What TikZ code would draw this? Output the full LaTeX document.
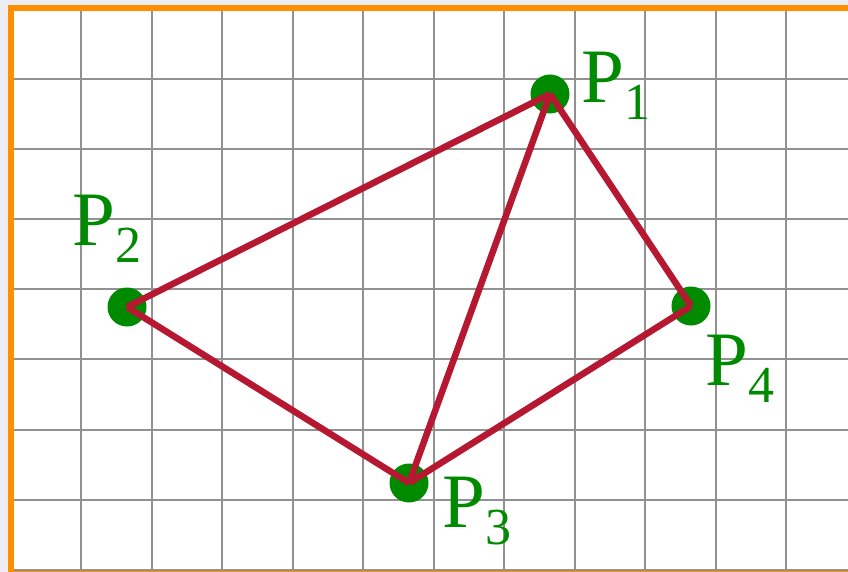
\documentclass[tikz,border=0pt]{standalone}
\usepackage{fontspec}
\setmainfont{Liberation Serif}
\definecolor{bgout}{RGB}{238,238,242}
\definecolor{frameor}{RGB}{255,143,0}
\definecolor{gridgr}{RGB}{145,145,145}
\definecolor{edgered}{RGB}{181,24,48}
\definecolor{ptgreen}{RGB}{0,138,0}
\tikzset{
  gridline/.style={draw=gridgr, line width=2pt},
  frameline/.style={draw=frameor, line width=5.5pt},
  edge/.style={draw=edgered, line width=6.5pt},
  ptdot/.style={circle, fill=ptgreen, inner sep=0pt, minimum size=39pt},
  ptlabel/.style={text=ptgreen, inner sep=0pt, anchor=base west, font=\fontsize{77}{80}\selectfont},
}
\newcommand{\subsc}[1]{\raisebox{-17pt}{\fontsize{52}{52}\selectfont #1}}
\begin{document}
\begin{tikzpicture}[x=1pt,y=-1pt]
\useasboundingbox (0,0) rectangle (848,572);
\fill[bgout] (0,0) rectangle (848,572);
\fill[white] (8,5) rectangle (848,572);
% grid
\foreach \i in {0,...,10} {
  \draw[gridline] ({81+70.5*\i},10) -- ({81+70.5*\i},572);
}
\foreach \j in {0,...,7} {
  \draw[gridline] (13,{79+70.1*\j}) -- (848,{79+70.1*\j});
}
% orange frame
\draw[frameline] (10.8,7.8) -- (848,7.8);
\draw[frameline] (10.8,5) -- (10.8,572);
\draw[draw=frameor, line width=2pt] (8,572) -- (848,572);
% points
\node[ptdot] (p1) at (550,94) {};
\node[ptdot] (p2) at (127,307) {};
\node[ptdot] (p3) at (409,483) {};
\node[ptdot] (p4) at (691,306) {};
% edges
\draw[edge] (p1.center) -- (p2.center);
\draw[edge] (p2.center) -- (p3.center);
\draw[edge] (p3.center) -- (p4.center);
\draw[edge] (p4.center) -- (p1.center);
\draw[edge] (p1.center) -- (p3.center);
% labels
\node[ptlabel] (l1) at (581,103) {P\subsc{1}};
\node[ptlabel] (l2) at (72,245) {P\subsc{2}};
\node[ptlabel] (l3) at (442,527) {P\subsc{3}};
\node[ptlabel] (l4) at (705,385) {P\subsc{4}};
\end{tikzpicture}
\end{document}
